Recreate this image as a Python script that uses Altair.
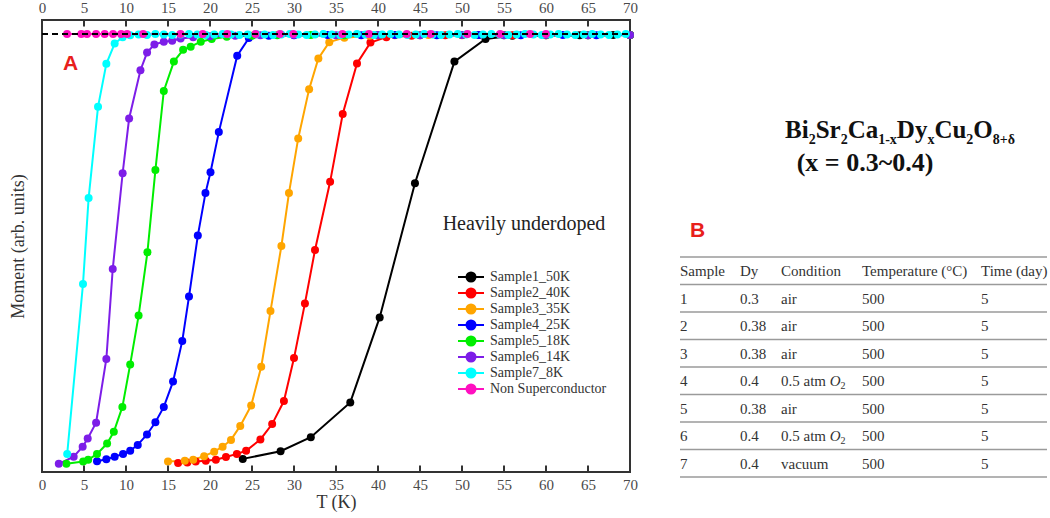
import altair as alt
import pandas as pd

# ------------------------------------------------------------------ data
series_names = ["Sample1_50K", "Sample2_40K", "Sample3_35K", "Sample4_25K",
                "Sample5_18K", "Sample6_14K", "Sample7_8K", "Non Superconductor"]
series_colors = ["#000000", "#ff0000", "#ffa500", "#0000ff",
                 "#00ee00", "#7d1de8", "#00ffff", "#ff10c0"]

s1_t = [23.9, 28.4, 32.0, 36.7, 40.2, 44.4, 49.1, 52.8, 56.0, 60.0, 64.0, 68.0, 70.0]
s1_m = [0.029, 0.046, 0.077, 0.154, 0.342, 0.639, 0.908, 0.958, 0.965, 0.966, 0.966, 0.967, 0.967]

s2_t = [16.2, 17.3, 18.3, 19.5, 20.7, 21.9, 23.2, 24.3, 26.0, 27.4, 28.8, 30.0, 31.3,
        32.5, 34.3, 35.8, 37.5, 39.1, 41.0, 44.0, 48.0, 52.0, 56.0, 60.0, 65.0, 70.0]
s2_m = [0.020, 0.021, 0.023, 0.025, 0.027, 0.033, 0.040, 0.047, 0.072, 0.106, 0.157, 0.252, 0.373,
        0.491, 0.642, 0.792, 0.904, 0.950, 0.962, 0.965, 0.966, 0.967, 0.966, 0.967, 0.966, 0.967]

s3_t = [15.0, 17.0, 18.0, 19.3, 20.5, 21.5, 22.5, 23.6, 24.9, 26.1, 27.2, 28.5, 29.4,
        30.5, 31.8, 32.9, 34.2, 36.0, 39.0, 42.0, 46.0, 50.0, 55.0, 60.0, 65.0, 70.0]
s3_m = [0.023, 0.025, 0.027, 0.035, 0.045, 0.056, 0.071, 0.102, 0.147, 0.233, 0.356, 0.500, 0.617,
        0.738, 0.847, 0.915, 0.951, 0.961, 0.965, 0.966, 0.967, 0.966, 0.967, 0.966, 0.967, 0.967]

s4_t = [6.55, 7.66, 8.65, 9.65, 10.5, 11.4, 12.5, 13.5, 14.5, 15.6, 16.7, 17.5, 18.55, 19.46,
        20.06, 21.05, 23.24, 24.62, 27.0, 30.0, 34.0, 38.0, 42.0, 47.0, 52.0, 57.0, 62.0, 66.0, 70.0]
s4_m = [0.024, 0.028, 0.034, 0.040, 0.047, 0.060, 0.083, 0.110, 0.144, 0.200, 0.290, 0.388, 0.523, 0.617,
        0.663, 0.752, 0.921, 0.960, 0.965, 0.966, 0.967, 0.966, 0.967, 0.966, 0.967, 0.966, 0.967, 0.966, 0.967]

s5_t = [2.9, 4.9, 5.5, 6.55, 7.75, 8.55, 9.57, 10.5, 11.5, 12.55, 13.5, 14.5, 15.7, 16.8, 17.7,
        18.9, 20.2, 22.0, 25.0, 28.0, 32.0, 36.0, 40.0, 45.0, 50.0, 55.0, 60.0, 65.0, 70.0]
s5_m = [0.018, 0.023, 0.027, 0.040, 0.063, 0.089, 0.144, 0.238, 0.346, 0.486, 0.668, 0.843, 0.908, 0.934, 0.941,
        0.952, 0.958, 0.963, 0.965, 0.966, 0.967, 0.966, 0.967, 0.966, 0.967, 0.966, 0.967, 0.966, 0.967]

s6_t = [2.0, 3.77, 4.84, 5.44, 6.44, 7.66, 8.42, 9.6, 10.37, 11.72, 12.51, 13.38, 14.5, 15.5,
        16.5, 18.0, 20.0, 23.0, 26.0, 30.0, 35.0, 40.0, 45.0, 50.0, 55.0, 60.0, 65.0, 70.0]
s6_m = [0.018, 0.034, 0.056, 0.074, 0.109, 0.250, 0.449, 0.661, 0.782, 0.889, 0.928, 0.946, 0.952, 0.954,
        0.959, 0.962, 0.964, 0.965, 0.966, 0.967, 0.966, 0.967, 0.966, 0.967, 0.966, 0.967, 0.966, 0.967]

s7_t = [3.0, 4.88, 5.55, 6.67, 7.66, 8.65,
        9.6, 10.5, 11.5, 12.5, 13.5, 14.5, 15.5, 16.5, 17.5, 18.5, 19.5, 20.5, 21.5, 22.5,
        23.5, 24.5, 25.5, 26.5, 27.5, 28.5, 29.5, 30.5, 31.5, 32.5, 33.5, 34.5, 35.5, 36.5,
        37.5, 38.5, 39.5, 40.5, 41.5, 42.5, 43.5, 44.5, 45.5, 46.5, 47.5, 48.5, 49.5, 50.5,
        51.5, 52.5, 53.5, 54.5, 55.5, 56.5, 57.5, 58.5, 59.5, 60.5, 61.5, 62.5, 63.5, 64.5,
        65.5, 66.5, 67.5, 68.5, 69.5]
s7_m = [0.040, 0.416, 0.606, 0.808, 0.903, 0.948,
        0.962, 0.966, 0.968, 0.967, 0.969, 0.968, 0.967, 0.968, 0.969, 0.968, 0.967, 0.968, 0.969, 0.968,
        0.967, 0.968, 0.969, 0.968, 0.967, 0.968, 0.969, 0.968, 0.967, 0.968, 0.969, 0.968, 0.967, 0.968,
        0.969, 0.968, 0.967, 0.968, 0.969, 0.968, 0.967, 0.968, 0.969, 0.968, 0.967, 0.968, 0.969, 0.968,
        0.967, 0.968, 0.969, 0.968, 0.967, 0.968, 0.969, 0.968, 0.967, 0.968, 0.969, 0.968, 0.967, 0.968,
        0.969, 0.968, 0.967, 0.968, 0.969]

nsc_t = [2.98, 4.68, 5.36, 6.44, 7.46, 8.46, 9.42, 10.13, 12.04, 16.48, 19.14, 22.05,
         25.42, 28.32, 29.92, 35.76, 38.93, 43.42, 46.28, 50.65, 54.54, 58.1, 59.99]
nsc_m = [0.969, 0.969, 0.969, 0.969, 0.969, 0.969, 0.969, 0.969, 0.969, 0.969, 0.969, 0.969,
         0.969, 0.969, 0.969, 0.969, 0.969, 0.969, 0.969, 0.969, 0.969, 0.969, 0.969]

ref_t = [0.0, 70.0]
ref_m = [0.969, 0.969]

x_ticks = [0, 5, 10, 15, 20, 25, 30, 35, 40, 45, 50, 55, 60, 65, 70]

# table
tbl_sample = ["1", "2", "3", "4", "5", "6", "7"]
tbl_dy = ["0.3", "0.38", "0.38", "0.4", "0.38", "0.4", "0.4"]
tbl_cond = ["air", "air", "air", "0.5 atm O2", "air", "0.5 atm O2", "vacuum"]
tbl_temp = ["500", "500", "500", "500", "500", "500", "500"]
tbl_time = ["5", "5", "5", "5", "5", "5", "5"]
tbl_head = ["Sample", "Dy", "Condition", "Temperature (°C)", "Time (day)"]

# ------------------------------------------------------------------ build
all_t = [s1_t, s2_t, s3_t, s4_t, s5_t, s6_t, s7_t, nsc_t]
all_m = [s1_m, s2_m, s3_m, s4_m, s5_m, s6_m, s7_m, nsc_m]
rows = []
for name, ts, ms in zip(series_names, all_t, all_m):
    for t, m in zip(ts, ms):
        rows.append({"series": name, "T": t, "M": m})
df = pd.DataFrame(rows)

W, H = 588, 452
SERIF = "Liberation Serif"
xscale = alt.Scale(domain=[0, 70], nice=False, zero=False)
yscale = alt.Scale(domain=[0, 1], nice=False, zero=False)
cscale = alt.Scale(domain=series_names, range=series_colors)

sym = "M-2.6,0L2.6,0M-0.9,0A0.9,0.9,0,1,0,0.9,0A0.9,0.9,0,1,0,-0.9,0Z"
leg = alt.Legend(title=None, orient="none", legendX=422, legendY=250, padding=0,
                 symbolType=sym, symbolSize=100, symbolStrokeWidth=2, symbolOpacity=1,
                 labelFont=SERIF, labelFontSize=14, labelColor="#333",
                 labelOffset=12, rowPadding=-2)

yaxis = alt.Axis(title="Moment (arb. units)", labels=False, ticks=False, domain=False, grid=False,
                 titleFont=SERIF, titleFontSize=18, titleFontWeight="normal", titleColor="#333",
                 titleAngle=270, titleX=-24, titleY=H / 2, titleAlign="center", titleBaseline="middle")

lines = alt.Chart(df).mark_line(strokeWidth=2).encode(
    x=alt.X("T:Q", scale=xscale, axis=None),
    y=alt.Y("M:Q", scale=yscale, axis=yaxis),
    stroke=alt.Stroke("series:N", scale=cscale, legend=leg),
    detail="series:N",
)

points = alt.Chart(df).mark_circle(size=64, opacity=1, strokeWidth=0).encode(
    x=alt.X("T:Q", scale=xscale, axis=None),
    y=alt.Y("M:Q", scale=yscale, axis=yaxis),
    fill=alt.Fill("series:N", scale=cscale, legend=leg),
    stroke=alt.Stroke("series:N", scale=cscale, legend=leg),
)

dashed = alt.Chart(pd.DataFrame({"T": ref_t, "M": ref_m})).mark_line(
    color="#000000", strokeWidth=2, strokeDash=[6, 4]).encode(
    x=alt.X("T:Q", scale=xscale, axis=None),
    y=alt.Y("M:Q", scale=yscale, axis=yaxis),
)

tick_df = pd.DataFrame({"tick": x_ticks})
bottom_axis = alt.Axis(orient="bottom", values=x_ticks, title="T (K)", ticks=False, tickSize=0,
                       domain=False, grid=False, labelFont=SERIF, labelFontSize=15, labelFlush=False,
                       labelColor="#4a4a4a", labelPadding=5, titleFont=SERIF, titleFontSize=18,
                       titleFontWeight="normal", titleColor="#333", titleX=W / 2, titleY=30,
                       titleAlign="center", titleBaseline="middle")
top_axis = alt.Axis(orient="top", values=x_ticks, title=None, ticks=False, tickSize=0,
                    domain=False, grid=False, labelFont=SERIF, labelFontSize=15, labelFlush=False,
                    labelColor="#4a4a4a", labelPadding=5)

ticks_bottom = alt.Chart(tick_df).mark_rule(color="#333", strokeWidth=2).encode(
    x=alt.X("tick:Q", scale=xscale, axis=bottom_axis),
    y=alt.value(H - 6.5), y2=alt.value(H))
ticks_top = alt.Chart(tick_df).mark_rule(color="#333", strokeWidth=2).encode(
    x=alt.X("tick:Q", scale=xscale, axis=top_axis),
    y=alt.value(0), y2=alt.value(6.5))

one = pd.DataFrame({"k": [0]})


def txt(x, y, text, size, weight="normal", color="#333", font=SERIF, align="left",
        baseline="alphabetic", style="normal", line_height=None):
    kw = dict(text=text, fontSize=size, fontWeight=weight, color=color, font=font,
              align=align, baseline=baseline, fontStyle=style)
    if line_height is not None:
        kw["lineHeight"] = line_height
    return alt.Chart(one).mark_text(**kw).encode(x=alt.value(x), y=alt.value(y))


texts = []
# panel labels
texts.append(txt(21, 50, "A", 21, weight="bold", color="#e8201b", font="Liberation Sans"))
texts.append(txt(648, 217, "B", 21, weight="bold", color="#e8201b", font="Liberation Sans"))
texts.append(txt(482, 210, "Heavily underdoped", 20, color="#222", align="center"))

# chemical formula with subscripts
em = {"B": .667, "i": .278, "S": .556, "r": .444, "C": .722, "a": .5, "D": .722, "y": .5,
      "u": .556, "O": .778, "2": .5, "1": .5, "-": .333, "x": .5, "8": .5, "+": .57, "δ": .5}
segments = [("Bi", 0), ("2", 1), ("Sr", 0), ("2", 1), ("Ca", 0), ("1-x", 1),
            ("Dy", 0), ("x", 1), ("Cu", 0), ("2", 1), ("O", 0), ("8+δ", 1)]
MAIN, SUB = 25, 14
cx = 743
for s, is_sub in segments:
    fs = SUB if is_sub else MAIN
    texts.append(txt(cx, 118 + (5.5 if is_sub else 0), s, fs, weight="bold", color="#111"))
    cx += sum(em.get(ch, .5) for ch in s) * fs
texts.append(txt(823, 151, "(x = 0.3~0.4)", 26, weight="bold", color="#111", align="center"))

# table
col_x = [638, 698, 739, 820, 939]
ROW0, LH = 256, 27.5
cond_main = [c.replace(" O2", "") for c in tbl_cond]
cols = [tbl_sample, tbl_dy, cond_main, tbl_temp, tbl_time]
for i, (hx, col) in enumerate(zip(col_x, cols)):
    texts.append(txt(hx, ROW0, [tbl_head[i]] + col, 15, color="#333", line_height=LH))
for r, c in enumerate(tbl_cond):
    if c.endswith(" O2"):
        y = ROW0 + LH * (r + 1)
        ox = col_x[2] + (3.0 + 0.25) * 15
        texts.append(txt(ox, y, "O", 15, color="#333", style="italic"))
        texts.append(txt(ox + 10.8, y + 3, "2", 10, color="#333"))

for k in range(9):
    yy = 237 + LH * k
    texts.append(alt.Chart(one).mark_rule(color="#9a9a9a", strokeWidth=1.5).encode(
        x=alt.value(638), x2=alt.value(1005), y=alt.value(yy)))

chart = alt.layer(lines, points, dashed, ticks_bottom, ticks_top, *texts).resolve_axis(
    x="independent"
).properties(
    width=W, height=H,
    autosize=alt.AutoSizeParams(type="none"),
    padding={"left": 42, "top": 20, "right": 420, "bottom": 46},
    background="white",
).configure_view(stroke="#333", strokeWidth=2)

chart.save("out.html", embed_options={"renderer": "svg", "actions": False})
